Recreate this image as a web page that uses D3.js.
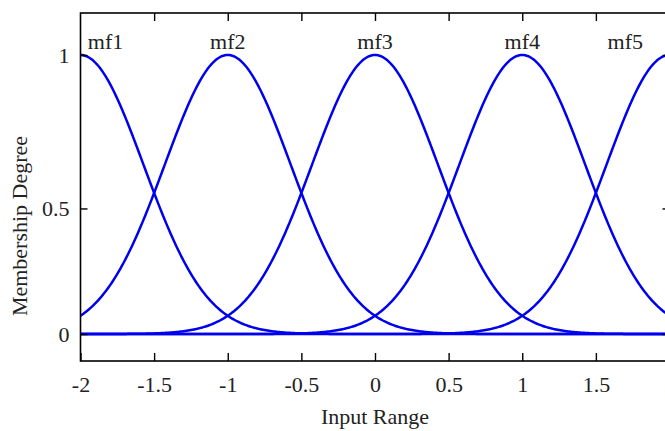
<!DOCTYPE html>
<html>
<head>
<meta charset="UTF-8">
<title>Membership functions</title>
<style>
    body { margin: 0; background: #fff; }
    .frame { fill: none; stroke: #000; stroke-width: 1.6px; }
    .tick line { stroke: #000; stroke-width: 1.4px; }
    .mf { fill: none; stroke: #0000f0; stroke-width: 2.5px; }
</style>
</head>
<body>
<svg id="chart" width="665" height="431"></svg>
<script src="https://d3js.org/d3.v7.min.js"></script>
<script>
    // membership functions (gaussian), centres and width
    const mfNames = ["mf1", "mf2", "mf3", "mf4", "mf5"];
    const mfCenters = [-2, -1, 0, 1, 2];
    const mfSigma = 0.428;
    const labelX = [-1.83, -1, 0, 1, 1.70];   // where each name sits

    const xTicks = [-2, -1.5, -1, -0.5, 0, 0.5, 1, 1.5, 2];
    const yTickValues = [0, 0.45, 1];
    const yTickLabels = ["0", "0.5", "1"];

    const FONT = "'Liberation Serif', 'Times New Roman', serif";

    const svg = d3.select("#chart");
    const margin = {left: 80.5, top: 13, right: 669.5, bottom: 361};

    const x = d3.scaleLinear().domain([-2, 2]).range([margin.left, margin.right]);
    const y = d3.scaleLinear().domain([0, 1]).range([334, 55]);

    // curves
    const line = d3.line().x(d => x(d[0])).y(d => y(d[1]));
    const xs = d3.range(-2, 2.0001, 0.01);
    mfCenters.forEach(c => {
        const pts = xs.map(v => [v, Math.exp(-((v - c) * (v - c)) / (2 * mfSigma * mfSigma))]);
        svg.append("path").attr("class", "mf").attr("d", line(pts));
    });

    // frame
    svg.append("rect").attr("class", "frame")
        .attr("x", margin.left).attr("y", margin.top)
        .attr("width", margin.right - margin.left)
        .attr("height", margin.bottom - margin.top);

    // bottom axis, ticks pointing inwards
    const xAxis = svg.append("g").attr("transform", `translate(0,${margin.bottom})`)
        .call(d3.axisBottom(x).tickValues(xTicks).tickSize(-8).tickPadding(15)
            .tickFormat(d => String(d)));
    xAxis.select(".domain").remove();

    const xTop = svg.append("g").attr("transform", `translate(0,${margin.top})`)
        .call(d3.axisTop(x).tickValues(xTicks.slice(1, -1)).tickSize(-8).tickFormat(""));
    xTop.select(".domain").remove();

    // left axis
    const yAxis = svg.append("g").attr("transform", `translate(${margin.left},0)`)
        .call(d3.axisLeft(y).tickValues(yTickValues).tickSize(-7).tickPadding(11)
            .tickFormat((d, i) => yTickLabels[i]));
    yAxis.select(".domain").remove();

    const yRight = svg.append("g").attr("transform", `translate(${margin.right},0)`)
        .call(d3.axisRight(y).tickValues(yTickValues).tickSize(-7).tickFormat(""));
    yRight.select(".domain").remove();

    // mf names
    svg.selectAll("text.mfname").data(mfNames).enter().append("text")
        .attr("class", "mfname")
        .attr("x", (d, i) => x(labelX[i]))
        .attr("y", 49)
        .attr("text-anchor", "middle")
        .text(d => d);

    // axis titles
    svg.append("text").attr("x", x(0)).attr("y", 424)
        .attr("text-anchor", "middle").text("Input Range");
    svg.append("text").attr("transform", "translate(27,226) rotate(-90)")
        .attr("text-anchor", "middle").text("Membership Degree");

    svg.selectAll("text")
        .attr("font-family", null)
        .style("font-family", FONT)
        .style("font-size", "22px")
        .style("fill", "#222");
</script>
</body>
</html>
